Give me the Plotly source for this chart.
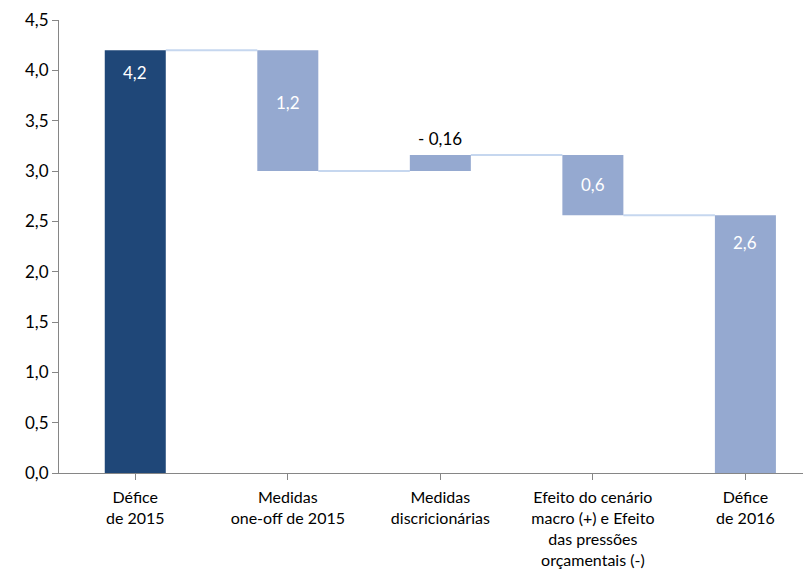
import plotly.graph_objects as go

categories = ["Défice<br>de 2015", "Medidas<br>one-off de 2015", "Medidas<br>discricionárias",
              "Efeito do cenário<br>macro (+) e Efeito<br>das pressões<br>orçamentais (-)", "Défice<br>de 2016"]
bases = [0.0, 3.0, 3.0, 2.56, 0.0]
heights = [4.2, 1.2, 0.16, 0.6, 2.56]
labels = ["4,2", "1,2", "- 0,16", "0,6", "2,6"]
colors = ["#1F4778", "#95A9D0", "#95A9D0", "#95A9D0", "#95A9D0"]
label_colors = ["white", "white", "black", "white", "white"]
label_shift = [-22, -52, 16, -30, -27]
# connector levels between consecutive bars
connector_levels = [4.2, 3.0, 3.16, 2.56]

FONT = "Lato, Carlito, Calibri, sans-serif"
bw = 0.4

fig = go.Figure()
fig.add_trace(go.Bar(x=list(range(5)), y=heights, base=bases, width=bw,
                     marker=dict(color=colors, line=dict(width=0)), hoverinfo="skip"))

for i, lvl in enumerate(connector_levels):
    fig.add_shape(type="line", xref="x", yref="y", x0=i + bw / 2, x1=i + 1 - bw / 2,
                  y0=lvl, y1=lvl, line=dict(color="#C6D7EF", width=2), layer="below")

for i in range(5):
    top = bases[i] + heights[i]
    fig.add_annotation(x=i, y=top, text=labels[i], showarrow=False, yshift=label_shift[i],
                       font=dict(family=FONT, size=17, color=label_colors[i]))

fig.update_layout(
    width=811, height=585, plot_bgcolor="white", paper_bgcolor="white",
    margin=dict(l=51, r=8, t=12, b=120), showlegend=False, separators=",.",
    font=dict(family=FONT, size=16, color="black"),
    xaxis=dict(tickmode="array", tickvals=list(range(5)), ticktext=categories,
               range=[-0.5, 4.43], showline=True, linecolor="#868686", linewidth=1,
               ticks="outside", ticklen=6, tickcolor="#868686", tickson="boundaries",
               showgrid=False, zeroline=False, tickfont=dict(size=16), automargin=False,
               ticklabelstandoff=4),
    yaxis=dict(range=[0, 4.5], dtick=0.5, tickformat=".1f", showline=True,
               linecolor="#868686", linewidth=1, ticks="outside", ticklen=6,
               tickcolor="#868686", showgrid=False, zeroline=False,
               tickfont=dict(size=17), automargin=False),
)
fig.write_html("out.html")
